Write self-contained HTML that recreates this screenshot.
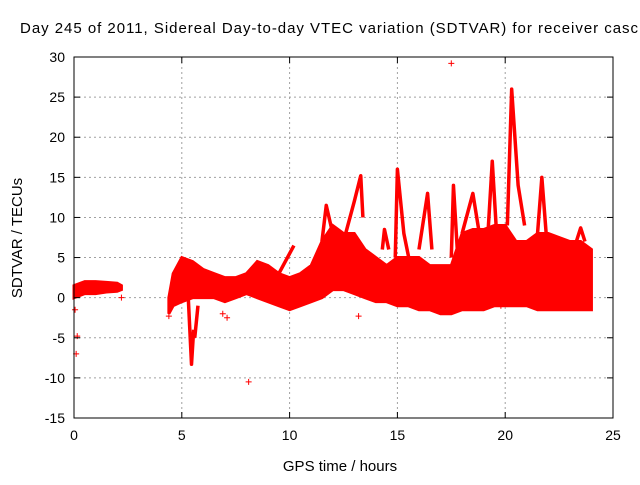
<!DOCTYPE html>
<html><head><meta charset="utf-8"><style>
body{margin:0;background:#fff;}
svg text{font-family:"Liberation Sans",sans-serif;font-size:14px;fill:#000;}
</style></head><body>
<svg id="chart" width="640" height="480" viewBox="0 0 640 480" xmlns="http://www.w3.org/2000/svg">
<text x="20" y="33" style="font-size:15px" textLength="618" lengthAdjust="spacing">Day 245 of 2011, Sidereal Day-to-day VTEC variation (SDTVAR) for receiver casc</text>
<g id="grid"></g>
<g id="data"></g>
<g id="axes"></g>
<text x="340" y="471" text-anchor="middle" style="font-size:15px">GPS time / hours</text>
<text transform="translate(22,238) rotate(-90)" text-anchor="middle" style="font-size:15px">SDTVAR / TECUs</text>
</svg>
<script>
const xTicks=[0,5,10,15,20,25];
const yTicks=[-15,-10,-5,0,5,10,15,20,25,30];
const band1X=[0,0.5,1,1.5,2,2.2];
const band1Low=[0,0.5,0.5,0.7,0.8,1];
const band1High=[1.5,2,2,1.9,1.8,1.5];
const band2X=[4.4,4.6,5,5.5,6,6.5,7,7.5,8,8.5,9,9.5,10,10.5,11,11.5,12,12.5,13,13.5,14,14.5,15,15.5,16,16.5,17,17.5,18,18.5,19,19.5,20,20.5,21,21.5,22,22.5,23,23.5,24];
const band2Low=[-2,-1,-0.5,0,0,0,-0.5,0,0.5,0,-0.5,-1,-1.5,-1,-0.5,0,1,1,0.5,0,-0.5,-0.5,-1,-1,-1.5,-1.5,-2,-2,-1.5,-1.5,-1.5,-1,-1,-1,-1,-1.5,-1.5,-1.5,-1.5,-1.5,-1.5];
const band2High=[0,3,5,4.5,3.5,3,2.5,2.5,3,4.5,4,3,2.5,3,4,7,9,8,8,6,5,4,5,5,5,4,4,4,8,8.5,8.5,9,9,7,7,8,8,7.5,7,7,6];
const spikes=[
 [[5.3,0],[5.45,-8.3],[5.55,-4]],
 [[5.6,-5],[5.75,-1]],
 [[9.3,2],[9.8,4.5],[10.2,6.5]],
 [[11.5,7],[11.7,11.5],[12,8]],
 [[12.5,7],[13,12],[13.3,15.2],[13.4,10]],
 [[14.3,6],[14.4,8.5],[14.6,6]],
 [[14.9,5],[15,16],[15.3,8],[15.6,4]],
 [[16,6],[16.4,13],[16.6,6]],
 [[17.5,5],[17.6,14],[17.8,5]],
 [[18,8],[18.5,13],[18.8,8]],
 [[19.2,8],[19.4,17],[19.6,8]],
 [[20.1,9],[20.3,26],[20.6,14],[20.9,9]],
 [[21.5,8],[21.7,15],[21.9,8]],
 [[23.3,7],[23.5,8.7],[23.7,7]]
];
const outX=[17.5,8.1,13.2,0.1,0.15,0.05,19.8,7.1,2.2,4.4,6.9];
const outY=[29.2,-10.5,-2.3,-7,-4.8,-1.5,-1,-2.5,0,-2.3,-2];
const L=74,R=613,T=57,B=418,X0=0,X1=25,Y0=-15,Y1=30;
const sx=v=>L+(v-X0)/(X1-X0)*(R-L);
const sy=v=>B-(v-Y0)/(Y1-Y0)*(B-T);
const NS="http://www.w3.org/2000/svg";
function mk(t,a,p){const e=document.createElementNS(NS,t);for(const k in a)e.setAttribute(k,a[k]);p.appendChild(e);return e;}
const grid=document.getElementById('grid'),axes=document.getElementById('axes'),data=document.getElementById('data');
xTicks.forEach(v=>{
 if(v>X0&&v<X1){const g=mk('line',{x1:sx(v),x2:sx(v),y1:T,y2:B,stroke:'#a0a0a0','stroke-dasharray':'2,3'},grid);
 }
 const t=mk('text',{x:sx(v),y:B+22,'text-anchor':'middle'},axes);t.textContent=v;
 
 mk('line',{x1:sx(v),x2:sx(v),y1:B,y2:B-6,stroke:'#000'},axes);
 mk('line',{x1:sx(v),x2:sx(v),y1:T,y2:T+6,stroke:'#000'},axes);
});
yTicks.forEach(v=>{
 if(v>Y0&&v<Y1){const g=mk('line',{x1:L,x2:R,y1:sy(v),y2:sy(v),stroke:'#a0a0a0','stroke-dasharray':'2,3'},grid);
 }
 const t=mk('text',{x:L-9,y:sy(v)+5,'text-anchor':'end'},axes);t.textContent=v;
 
 mk('line',{x1:L,x2:L+6,y1:sy(v),y2:sy(v),stroke:'#000'},axes);
 mk('line',{x1:R,x2:R-6,y1:sy(v),y2:sy(v),stroke:'#000'},axes);
});
const fr=mk('rect',{x:L,y:T,width:R-L,height:B-T,fill:'none',stroke:'#000'},axes);

function band(xs,lo,hi,name){
 let pts=xs.map((x,i)=>sx(x)+','+sy(hi[i]));
 for(let i=xs.length-1;i>=0;i--)pts.push(sx(xs[i])+','+sy(lo[i]));
 const p=mk('polygon',{points:pts.join(' '),fill:'#ff0000',stroke:'#ff0000','stroke-width':3},data);
 
}
band(band1X,band1Low,band1High,'data-band-early');
band(band2X,band2Low,band2High,'data-band-main');
spikes.forEach(s=>{
 const p=mk('polyline',{points:s.map(q=>sx(q[0])+','+sy(q[1])).join(' '),fill:'none',stroke:'#ff0000','stroke-width':3.5,'stroke-linejoin':'round'},data);
 
});
outX.forEach((x,i)=>{
 const cx=sx(x),cy=sy(outY[i]);
 const p=mk('path',{d:`M${cx-3},${cy}H${cx+3}M${cx},${cy-3}V${cy+3}`,stroke:'#ff0000','stroke-width':1},data);
 
});
</script>
</body></html>
